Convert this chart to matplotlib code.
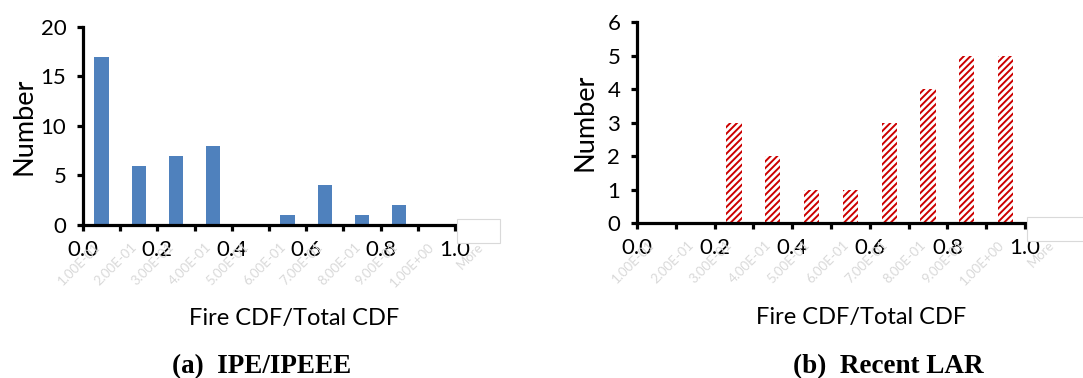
import matplotlib
matplotlib.use("Agg")
import matplotlib.pyplot as plt
from matplotlib.patches import Rectangle
import numpy as np

# Histogram data (10 bins of Fire CDF / Total CDF)
bin_centers = [0.05, 0.15, 0.25, 0.35, 0.45, 0.55, 0.65, 0.75, 0.85, 0.95]
ipe_counts = [17, 6, 7, 8, 0, 1, 4, 1, 2, 0]
lar_counts = [0, 0, 3, 2, 1, 1, 3, 4, 5, 5]
ghost_labels = ["1.00E-01", "2.00E-01", "3.00E-01", "4.00E-01", "5.00E-01",
                "6.00E-01", "7.00E-01", "8.00E-01", "9.00E-01", "1.00E+00"]
x_ticks = [0.0, 0.2, 0.4, 0.6, 0.8, 1.0]
x_ticklabels = ["0.0", "0.2", "0.4", "0.6", "0.8", "1.0"]

plt.rcParams['font.family'] = ['Lato', 'DejaVu Sans']
plt.rcParams['hatch.linewidth'] = 1.4

fig = plt.figure(figsize=(10.83, 3.78), dpi=100)
ax1 = fig.add_axes([0.0766, 0.4048, 0.3435, 0.5238])
ax2 = fig.add_axes([0.5882, 0.410, 0.3583, 0.5317])


def style_axis(ax, ymax, ystep, label_x, ylabelpad):
    for s in ["top", "right"]:
        ax.spines[s].set_visible(False)
    for s in ["left", "bottom"]:
        ax.spines[s].set_linewidth(2.3)
    ax.set_xlim(0, 1)
    ax.set_ylim(0, ymax)
    ax.set_yticks(np.arange(0, ymax + 0.01, ystep))
    ax.set_xticks(np.arange(0, 1.001, 0.1))
    ax.set_xticklabels([""] * 11)
    ax.tick_params(axis="both", width=2.3, length=4, labelsize=16)
    ax.tick_params(axis="y", pad=8)
    for x, lab in zip(x_ticks, x_ticklabels):
        ax.text(x, -0.125, lab, transform=ax.get_xaxis_transform(),
                ha="center", va="center", fontsize=16)
    # faint leftover category labels
    for x, lab in zip(bin_centers, ghost_labels):
        ax.text(x - 0.01, -0.1, lab, transform=ax.get_xaxis_transform(),
                ha="right", va="center", rotation=45, rotation_mode="anchor",
                fontsize=9.5, color="#d9d9d9")
    ax.text(1.07, -0.1, "More", transform=ax.get_xaxis_transform(),
            ha="right", va="center", rotation=45, rotation_mode="anchor",
            fontsize=9.5, color="#d9d9d9")
    ax.set_ylabel("Number", fontsize=19.5, labelpad=ylabelpad)
    ax.text(label_x, -0.47, "Fire CDF/Total CDF", transform=ax.transAxes,
            ha="center", va="center", fontsize=17)


ax1.bar(bin_centers, ipe_counts, width=0.038, color="#4F81BD", zorder=2)
style_axis(ax1, 20, 5, 0.567, 3)

ax2.bar(bin_centers, lar_counts, width=0.039, facecolor="white",
        edgecolor="#CC0000", hatch="/////", linewidth=0, zorder=2)
style_axis(ax2, 6, 1, 0.577, 7)

# captions
fig.text(262 / 1083, 1 - 367 / 378, "(a)  IPE/IPEEE", family="Liberation Serif",
         fontweight="bold", fontsize=19.5, ha="center", va="center")
fig.text(888 / 1083, 1 - 367 / 378, "(b)  Recent LAR", family="Liberation Serif",
         fontweight="bold", fontsize=19.5, ha="center", va="center")

# small leftover boxes at the axis ends
fig.patches.append(Rectangle((457 / 1083, 1 - 243 / 378), 43 / 1083, 24 / 378,
                             transform=fig.transFigure, facecolor="white",
                             edgecolor="#d9d9d9", linewidth=0.8, zorder=5))
fig.patches.append(Rectangle((1027 / 1083, 1 - 241 / 378), 60 / 1083, 24 / 378,
                             transform=fig.transFigure, facecolor="white",
                             edgecolor="#d9d9d9", linewidth=0.8, zorder=5))

fig.savefig("out.png", dpi=100)
